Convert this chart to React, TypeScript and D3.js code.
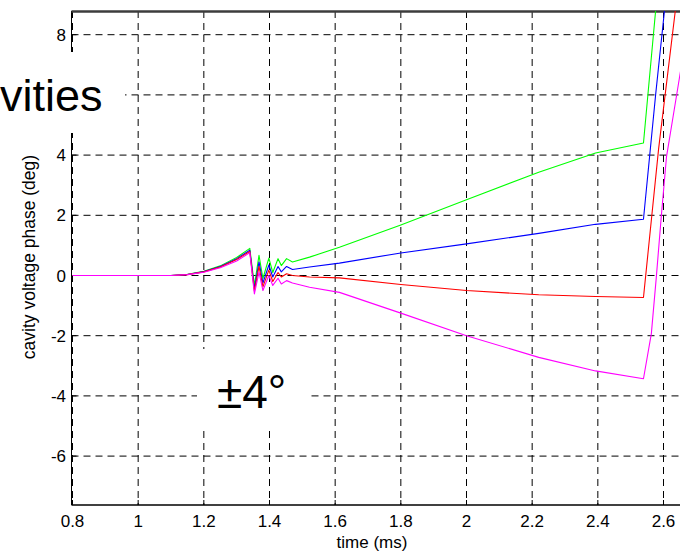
import React from "react";
import * as d3 from "d3";

// ---------- data ----------
const baseTime = [
  0.8, 1.1, 1.15, 1.2, 1.25, 1.3, 1.34, 1.354, 1.368, 1.38, 1.398, 1.41, 1.426,
  1.436, 1.452, 1.47, 1.522, 1.613, 1.8, 2.0, 2.22, 2.393, 2.539,
];
const greenBase = [
  0, 0, 0.04, 0.14, 0.32, 0.6, 0.9, -0.33, 0.67, -0.1, 0.58, 0.1, 0.56, 0.33,
  0.56, 0.45, 0.61, 0.94, 1.68, 2.52, 3.43, 4.07, 4.4,
];
const blueBase = [
  0, 0, 0.035, 0.13, 0.3, 0.56, 0.84, -0.45, 0.45, -0.25, 0.35, -0.05, 0.3,
  0.12, 0.3, 0.2, 0.28, 0.41, 0.75, 1.05, 1.4, 1.7, 1.87,
];
const redBase = [
  0, 0, 0.03, 0.12, 0.28, 0.53, 0.8, -0.52, 0.3, -0.38, 0.18, -0.2, 0.1, -0.05,
  0.06, 0, -0.05, -0.08, -0.3, -0.5, -0.64, -0.7, -0.73,
];
const magentaBase = [
  0, 0, 0.03, 0.11, 0.26, 0.48, 0.76, -0.61, 0.11, -0.5, 0, -0.33, -0.09,
  -0.28, -0.17, -0.25, -0.39, -0.56, -1.25, -2.0, -2.72, -3.17, -3.43,
];

const greenTailT = [2.576, 2.62];
const greenTailV = [8.8, 13.5];
const blueTailT = [2.576, 2.603, 2.64];
const blueTailV = [6.0, 8.8, 12.0];
const redTailT = [2.585, 2.636, 2.66];
const redTailV = [4.2, 8.8, 10.8];
const magentaTailT = [2.563, 2.578, 2.593, 2.609, 2.645, 2.67];
const magentaTailV = [-1.93, -0.07, 1.93, 3.93, 6.33, 8.0];

const xTicks = [0.8, 1, 1.2, 1.4, 1.6, 1.8, 2, 2.2, 2.4, 2.6];
const yTicks = [-6, -4, -2, 0, 2, 4, 6, 8];
// the "6" label is hidden behind the slide's text box in the reference
const yTickLabels = [-6, -4, -2, 0, 2, 4, 8];

const seriesList = [
  { name: "green", color: "#00ff00", base: greenBase, tailT: greenTailT, tailV: greenTailV },
  { name: "blue", color: "#0000ff", base: blueBase, tailT: blueTailT, tailV: blueTailV },
  { name: "red", color: "#ff0000", base: redBase, tailT: redTailT, tailV: redTailV },
  { name: "magenta", color: "#ff00ff", base: magentaBase, tailT: magentaTailT, tailV: magentaTailV },
];

const FONT = "'Liberation Sans', Arial, Helvetica, sans-serif";

export default function App() {
  const W = 680;
  const H = 555;
  const x = d3.scaleLinear().domain([0.8, 2.6]).range([72.5, 663.5]);
  const y = d3.scaleLinear().domain([0, 8]).range([275.5, 34.7]);
  const top = 11;
  const bottom = 505;
  const left = 71.5;

  const line = d3
    .line<[number, number]>()
    .x((d) => x(d[0]))
    .y((d) => y(d[1]));

  const paths = seriesList.map((s) => {
    const pts: [number, number][] = baseTime.map((t, i) => [t, s.base[i]]);
    s.tailT.forEach((t, i) => pts.push([t, s.tailV[i]]));
    return { color: s.color, d: line(pts) || "" };
  });

  return (
    <svg
      width={W}
      height={H}
      style={{ position: "absolute", left: 0, top: 0, display: "block", background: "#fff" }}
      fontFamily={FONT}
    >
      <defs>
        <clipPath id="plotClip">
          <rect x={left} y={top} width={800} height={bottom - top} />
        </clipPath>
      </defs>
      <rect x={0} y={0} width={W} height={H} fill="#fff" />

      {/* grid */}
      <g stroke="#000" strokeWidth={1} strokeDasharray="7,5" fill="none">
        {xTicks.map((t) => (
          <line key={"gx" + t} x1={x(t)} x2={x(t)} y1={top} y2={bottom} />
        ))}
        {yTicks.map((v) => (
          <line key={"gy" + v} x1={left} x2={W} y1={y(v)} y2={y(v)} />
        ))}
      </g>

      {/* axes */}
      <line x1={left} x2={left} y1={top} y2={bottom} stroke="#000" strokeWidth={1} />
      <line x1={left} x2={W} y1={bottom} y2={bottom} stroke="#000" strokeWidth={1.6} />
      <line x1={left} x2={W} y1={top + 0.5} y2={top + 0.5} stroke="#3c3c3c" strokeWidth={2.6} />
      <g stroke="#000" strokeWidth={1}>
        {xTicks.map((t) => (
          <line key={"tx" + t} x1={x(t)} x2={x(t)} y1={bottom} y2={bottom - 5} />
        ))}
        {yTicks.map((v) => (
          <line key={"ty" + v} x1={left} x2={left + 5} y1={y(v)} y2={y(v)} />
        ))}
      </g>

      {/* tick labels */}
      <g fontSize={17} fill="#000">
        {xTicks.map((t) => (
          <text key={"lx" + t} x={x(t)} y={527} textAnchor="middle">
            {String(t)}
          </text>
        ))}
        {yTickLabels.map((v) => (
          <text key={"ly" + v} x={66} y={y(v) + 6} textAnchor="end">
            {String(v)}
          </text>
        ))}
      </g>

      {/* axis titles */}
      <text x={372} y={548} fontSize={17} textAnchor="middle" fill="#000">
        time (ms)
      </text>
      <text
        transform="translate(35,257) rotate(-90)"
        fontSize={17.5}
        textAnchor="middle"
        fill="#000"
      >
        cavity voltage phase (deg)
      </text>

      {/* data */}
      <g clipPath="url(#plotClip)" fill="none" strokeWidth={1.1}>
        {paths.map((p) => (
          <path key={p.color} d={p.d} stroke={p.color} strokeLinejoin="round" />
        ))}
      </g>

      {/* overlaid slide text boxes */}
      <rect x={0} y={52} width={125} height={81} fill="#fff" />
      <text x={0} y={111} fontSize={45} fill="#000">
        vities
      </text>
      <rect x={197} y={349} width={111} height={78} fill="#fff" />
      <text x={217} y={408} fontSize={46} fill="#000">
        ±4°
      </text>
    </svg>
  );
}
